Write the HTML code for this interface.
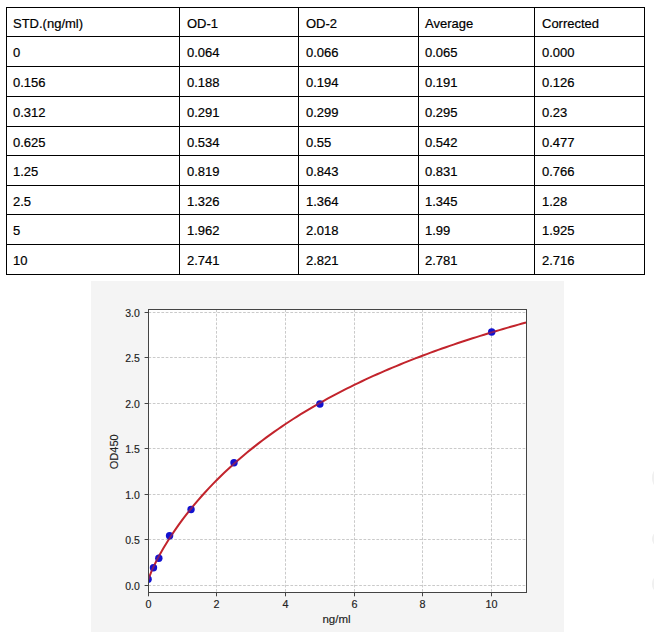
<!DOCTYPE html><html><head><meta charset="utf-8"><style>html,body{margin:0;padding:0;background:#fff;width:654px;height:632px;overflow:hidden}svg{display:block}</style></head><body>
<svg width="654" height="632" viewBox="0 0 654 632">
<g fill="#000">
<rect x="6" y="7" width="639" height="1"/>
<rect x="6" y="36" width="639" height="1"/>
<rect x="6" y="66" width="639" height="1"/>
<rect x="6" y="96" width="639" height="1"/>
<rect x="6" y="126" width="639" height="1"/>
<rect x="6" y="155" width="639" height="1"/>
<rect x="6" y="185" width="639" height="1"/>
<rect x="6" y="214" width="639" height="1"/>
<rect x="6" y="244" width="639" height="1"/>
<rect x="6" y="274" width="639" height="1"/>
<rect x="6" y="7" width="1" height="268"/>
<rect x="179" y="7" width="1" height="268"/>
<rect x="298" y="7" width="1" height="268"/>
<rect x="418" y="7" width="1" height="268"/>
<rect x="534" y="7" width="1" height="268"/>
<rect x="644" y="7" width="1" height="268"/>
</g>
<g font-family="Liberation Sans" font-size="13" fill="#000" stroke="#000" stroke-width="0.2">
<text x="13" y="28">STD.(ng/ml)</text>
<text x="187" y="28">OD-1</text>
<text x="306" y="28">OD-2</text>
<text x="425" y="28">Average</text>
<text x="542" y="28">Corrected</text>
<text x="13" y="57">0</text>
<text x="187" y="57">0.064</text>
<text x="306" y="57">0.066</text>
<text x="425" y="57">0.065</text>
<text x="542" y="57">0.000</text>
<text x="13" y="87">0.156</text>
<text x="187" y="87">0.188</text>
<text x="306" y="87">0.194</text>
<text x="425" y="87">0.191</text>
<text x="542" y="87">0.126</text>
<text x="13" y="117">0.312</text>
<text x="187" y="117">0.291</text>
<text x="306" y="117">0.299</text>
<text x="425" y="117">0.295</text>
<text x="542" y="117">0.23</text>
<text x="13" y="147">0.625</text>
<text x="187" y="147">0.534</text>
<text x="306" y="147">0.55</text>
<text x="425" y="147">0.542</text>
<text x="542" y="147">0.477</text>
<text x="13" y="176">1.25</text>
<text x="187" y="176">0.819</text>
<text x="306" y="176">0.843</text>
<text x="425" y="176">0.831</text>
<text x="542" y="176">0.766</text>
<text x="13" y="206">2.5</text>
<text x="187" y="206">1.326</text>
<text x="306" y="206">1.364</text>
<text x="425" y="206">1.345</text>
<text x="542" y="206">1.28</text>
<text x="13" y="235">5</text>
<text x="187" y="235">1.962</text>
<text x="306" y="235">2.018</text>
<text x="425" y="235">1.99</text>
<text x="542" y="235">1.925</text>
<text x="13" y="265">10</text>
<text x="187" y="265">2.741</text>
<text x="306" y="265">2.821</text>
<text x="425" y="265">2.781</text>
<text x="542" y="265">2.716</text>
</g>
<rect x="91" y="281" width="473" height="351" fill="#f4f4f4"/>
<rect x="148.5" y="309.5" width="378.0" height="283.0" fill="#fff"/>
<g stroke="#c4c4c4" stroke-width="0.9" stroke-dasharray="2.7 1.6" fill="none">
<line x1="148.50" y1="309.5" x2="148.50" y2="592.5"/>
<line x1="216.50" y1="309.5" x2="216.50" y2="592.5"/>
<line x1="285.50" y1="309.5" x2="285.50" y2="592.5"/>
<line x1="354.50" y1="309.5" x2="354.50" y2="592.5"/>
<line x1="422.50" y1="309.5" x2="422.50" y2="592.5"/>
<line x1="491.50" y1="309.5" x2="491.50" y2="592.5"/>
<line x1="148.5" y1="585.50" x2="526.5" y2="585.50"/>
<line x1="148.5" y1="539.50" x2="526.5" y2="539.50"/>
<line x1="148.5" y1="494.50" x2="526.5" y2="494.50"/>
<line x1="148.5" y1="448.50" x2="526.5" y2="448.50"/>
<line x1="148.5" y1="403.50" x2="526.5" y2="403.50"/>
<line x1="148.5" y1="357.50" x2="526.5" y2="357.50"/>
<line x1="148.5" y1="312.50" x2="526.5" y2="312.50"/>
</g>
<defs><clipPath id="ax"><rect x="148.5" y="309.5" width="378.0" height="283.0"/></clipPath></defs>
<g clip-path="url(#ax)">
<polyline points="148.10,580.07 151.92,570.15 155.74,562.20 159.55,555.00 163.37,548.31 167.19,542.02 171.01,536.05 174.82,530.36 178.64,524.92 182.46,519.70 186.28,514.67 190.10,509.83 193.91,505.15 197.73,500.63 201.55,496.25 205.37,492.01 209.18,487.89 213.00,483.89 216.82,480.00 220.64,476.21 224.46,472.53 228.27,468.94 232.09,465.44 235.91,462.02 239.73,458.69 243.54,455.44 247.36,452.26 251.18,449.15 255.00,446.12 258.82,443.15 262.63,440.24 266.45,437.40 270.27,434.61 274.09,431.88 277.90,429.21 281.72,426.59 285.54,424.02 289.36,421.50 293.18,419.03 296.99,416.60 300.81,414.22 304.63,411.88 308.45,409.59 312.26,407.33 316.08,405.12 319.90,402.94 323.72,400.80 327.54,398.70 331.35,396.63 335.17,394.60 338.99,392.60 342.81,390.63 346.62,388.70 350.44,386.79 354.26,384.92 358.08,383.07 361.90,381.25 365.71,379.46 369.53,377.70 373.35,375.96 377.17,374.25 380.98,372.56 384.80,370.90 388.62,369.26 392.44,367.65 396.26,366.05 400.07,364.48 403.89,362.94 407.71,361.41 411.53,359.90 415.34,358.42 419.16,356.95 422.98,355.50 426.80,354.08 430.62,352.67 434.43,351.28 438.25,349.90 442.07,348.55 445.89,347.21 449.70,345.89 453.52,344.58 457.34,343.30 461.16,342.02 464.98,340.76 468.79,339.52 472.61,338.29 476.43,337.08 480.25,335.88 484.06,334.70 487.88,333.53 491.70,332.37 495.52,331.23 499.34,330.09 503.15,328.98 506.97,327.87 510.79,326.78 514.61,325.70 518.42,324.63 522.24,323.57 526.06,322.52" fill="none" stroke="#c2242c" stroke-width="2"/>
<g fill="#1212d0"><circle cx="148.10" cy="579.19" r="3.7"/><circle cx="153.46" cy="567.72" r="3.7"/><circle cx="158.82" cy="558.25" r="3.7"/><circle cx="169.57" cy="535.78" r="3.7"/><circle cx="191.05" cy="509.48" r="3.7"/><circle cx="234.00" cy="462.71" r="3.7"/><circle cx="319.90" cy="404.01" r="3.7"/><circle cx="491.70" cy="332.03" r="3.7"/></g>
<defs><clipPath id="dots"><circle cx="148.10" cy="579.19" r="3.7"/><circle cx="153.46" cy="567.72" r="3.7"/><circle cx="158.82" cy="558.25" r="3.7"/><circle cx="169.57" cy="535.78" r="3.7"/><circle cx="191.05" cy="509.48" r="3.7"/><circle cx="234.00" cy="462.71" r="3.7"/><circle cx="319.90" cy="404.01" r="3.7"/><circle cx="491.70" cy="332.03" r="3.7"/></clipPath></defs>
<polyline clip-path="url(#dots)" points="148.10,580.07 151.92,570.15 155.74,562.20 159.55,555.00 163.37,548.31 167.19,542.02 171.01,536.05 174.82,530.36 178.64,524.92 182.46,519.70 186.28,514.67 190.10,509.83 193.91,505.15 197.73,500.63 201.55,496.25 205.37,492.01 209.18,487.89 213.00,483.89 216.82,480.00 220.64,476.21 224.46,472.53 228.27,468.94 232.09,465.44 235.91,462.02 239.73,458.69 243.54,455.44 247.36,452.26 251.18,449.15 255.00,446.12 258.82,443.15 262.63,440.24 266.45,437.40 270.27,434.61 274.09,431.88 277.90,429.21 281.72,426.59 285.54,424.02 289.36,421.50 293.18,419.03 296.99,416.60 300.81,414.22 304.63,411.88 308.45,409.59 312.26,407.33 316.08,405.12 319.90,402.94 323.72,400.80 327.54,398.70 331.35,396.63 335.17,394.60 338.99,392.60 342.81,390.63 346.62,388.70 350.44,386.79 354.26,384.92 358.08,383.07 361.90,381.25 365.71,379.46 369.53,377.70 373.35,375.96 377.17,374.25 380.98,372.56 384.80,370.90 388.62,369.26 392.44,367.65 396.26,366.05 400.07,364.48 403.89,362.94 407.71,361.41 411.53,359.90 415.34,358.42 419.16,356.95 422.98,355.50 426.80,354.08 430.62,352.67 434.43,351.28 438.25,349.90 442.07,348.55 445.89,347.21 449.70,345.89 453.52,344.58 457.34,343.30 461.16,342.02 464.98,340.76 468.79,339.52 472.61,338.29 476.43,337.08 480.25,335.88 484.06,334.70 487.88,333.53 491.70,332.37 495.52,331.23 499.34,330.09 503.15,328.98 506.97,327.87 510.79,326.78 514.61,325.70 518.42,324.63 522.24,323.57 526.06,322.52" fill="none" stroke="#c2242c" stroke-width="2" stroke-opacity="0.6"/>
</g>
<rect x="148.5" y="309.5" width="378.0" height="283.0" fill="none" stroke="#444" stroke-width="1"/>
<g stroke="#444" stroke-width="1">
<line x1="148.50" y1="592.5" x2="148.50" y2="596.3"/>
<line x1="216.50" y1="592.5" x2="216.50" y2="596.3"/>
<line x1="285.50" y1="592.5" x2="285.50" y2="596.3"/>
<line x1="354.50" y1="592.5" x2="354.50" y2="596.3"/>
<line x1="422.50" y1="592.5" x2="422.50" y2="596.3"/>
<line x1="491.50" y1="592.5" x2="491.50" y2="596.3"/>
<line x1="144.6" y1="585.50" x2="148.5" y2="585.50"/>
<line x1="144.6" y1="539.50" x2="148.5" y2="539.50"/>
<line x1="144.6" y1="494.50" x2="148.5" y2="494.50"/>
<line x1="144.6" y1="448.50" x2="148.5" y2="448.50"/>
<line x1="144.6" y1="403.50" x2="148.5" y2="403.50"/>
<line x1="144.6" y1="357.50" x2="148.5" y2="357.50"/>
<line x1="144.6" y1="312.50" x2="148.5" y2="312.50"/>
</g>
<g font-family="Liberation Sans" font-size="10" fill="#222" stroke="#222" stroke-width="0.15">
<text transform="translate(148.50,608) scale(1.08,1)" text-anchor="middle">0</text>
<text transform="translate(216.50,608) scale(1.08,1)" text-anchor="middle">2</text>
<text transform="translate(285.50,608) scale(1.08,1)" text-anchor="middle">4</text>
<text transform="translate(354.50,608) scale(1.08,1)" text-anchor="middle">6</text>
<text transform="translate(422.50,608) scale(1.08,1)" text-anchor="middle">8</text>
<text transform="translate(491.50,608) scale(1.08,1)" text-anchor="middle">10</text>
<text transform="translate(139.8,589.80) scale(1.05,1)" text-anchor="end">0.0</text>
<text transform="translate(139.8,543.80) scale(1.05,1)" text-anchor="end">0.5</text>
<text transform="translate(139.8,498.80) scale(1.05,1)" text-anchor="end">1.0</text>
<text transform="translate(139.8,452.80) scale(1.05,1)" text-anchor="end">1.5</text>
<text transform="translate(139.8,407.80) scale(1.05,1)" text-anchor="end">2.0</text>
<text transform="translate(139.8,361.80) scale(1.05,1)" text-anchor="end">2.5</text>
<text transform="translate(139.8,316.80) scale(1.05,1)" text-anchor="end">3.0</text>
<text x="336.5" y="622.5" font-size="11.5" text-anchor="middle">ng/ml</text>
<text transform="translate(118,451.8) rotate(-90)" font-size="11" text-anchor="middle">OD450</text>
</g>
<g fill="#f0f0f0"><ellipse cx="656" cy="478" rx="4" ry="8"/><ellipse cx="656" cy="539" rx="4" ry="6"/><ellipse cx="656" cy="584" rx="4" ry="7"/></g>
</svg></body></html>
